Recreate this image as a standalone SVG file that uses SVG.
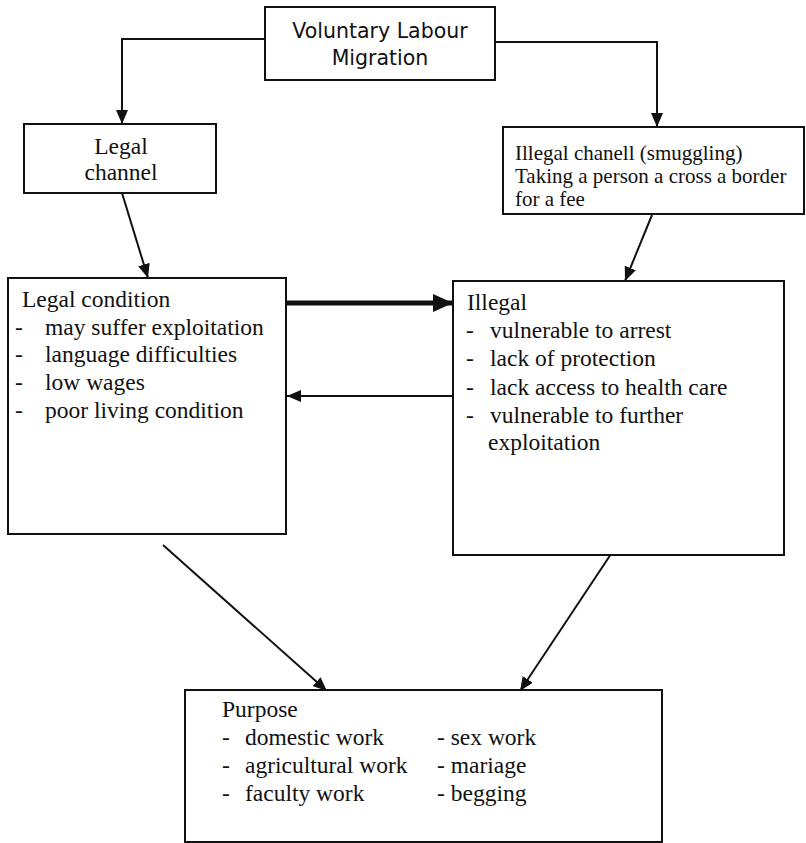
<svg xmlns="http://www.w3.org/2000/svg" width="806" height="843" viewBox="0 0 806 843">
<style>
  .box { fill: #fff; stroke: #111; stroke-width: 2; }
  .sans { font-family: "DejaVu Sans", "Liberation Sans", sans-serif; font-size: 20.5px; fill: #111; }
  .serif { font-family: "Liberation Serif", "Times New Roman", serif; font-size: 23.5px; fill: #111; }
  .small { font-size: 21px; }
  .conn { fill: none; stroke: #111; stroke-width: 2; }
  .thick { fill: none; stroke: #111; stroke-width: 5; }
</style>
<defs>
  <marker id="arr" markerUnits="userSpaceOnUse" markerWidth="14" markerHeight="12" refX="14" refY="6" orient="auto">
    <path d="M0,0 L14,6 L0,12 z" fill="#111"/>
  </marker>
  <marker id="arrBig" markerUnits="userSpaceOnUse" markerWidth="20" markerHeight="18" refX="20" refY="9" orient="auto">
    <path d="M0,0 L20,9 L0,18 z" fill="#111"/>
  </marker>
</defs>
<rect width="806" height="843" fill="#fff"/>

<g id="connectors">
  <polyline class="conn" points="265,39 122,39 122,124" marker-end="url(#arr)"/>
  <polyline class="conn" points="495,42 657,42 657,127" marker-end="url(#arr)"/>
  <line class="conn" x1="122" y1="193" x2="148" y2="278" marker-end="url(#arr)"/>
  <line class="conn" x1="652" y1="215" x2="625" y2="281" marker-end="url(#arr)"/>
  <line class="thick" x1="287" y1="303" x2="453" y2="303" marker-end="url(#arrBig)"/>
  <line class="conn" x1="453" y1="396" x2="287" y2="396" marker-end="url(#arr)"/>
  <line class="conn" x1="163" y1="545" x2="327" y2="691" marker-end="url(#arr)"/>
  <line class="conn" x1="615" y1="548" x2="520" y2="691" marker-end="url(#arr)"/>
</g>

<g id="voluntary">
  <rect class="box" x="265" y="7" width="230" height="73"/>
  <text class="sans" x="380" y="38" text-anchor="middle">Voluntary Labour</text>
  <text class="sans" x="380" y="65" text-anchor="middle">Migration</text>
</g>

<g id="legal-channel">
  <rect class="box" x="24" y="124" width="192" height="69"/>
  <text class="serif" x="121" y="154" text-anchor="middle">Legal</text>
  <text class="serif" x="121" y="180" text-anchor="middle">channel</text>
</g>

<g id="illegal-channel">
  <rect class="box" x="503" y="127" width="301" height="87"/>
  <text class="serif small" x="515" y="160">Illegal chanell (smuggling)</text>
  <text class="serif small" x="515" y="183">Taking a person a cross a border</text>
  <text class="serif small" x="515" y="206">for a fee</text>
</g>

<g id="legal-condition">
  <rect class="box" x="8" y="278" width="278" height="256"/>
  <text class="serif" x="22" y="307">Legal condition</text>
  <text class="serif" x="15" y="335">-</text><text class="serif" x="45" y="335">may suffer exploitation</text>
  <text class="serif" x="15" y="362">-</text><text class="serif" x="45" y="362">language difficulties</text>
  <text class="serif" x="15" y="390">-</text><text class="serif" x="45" y="390">low wages</text>
  <text class="serif" x="15" y="418">-</text><text class="serif" x="45" y="418">poor living condition</text>
</g>

<g id="illegal">
  <rect class="box" x="453" y="281" width="331" height="274"/>
  <text class="serif" x="467" y="310">Illegal</text>
  <text class="serif" x="466" y="338">-</text><text class="serif" x="490" y="338">vulnerable to arrest</text>
  <text class="serif" x="466" y="366">-</text><text class="serif" x="490" y="366">lack of protection</text>
  <text class="serif" x="466" y="395">-</text><text class="serif" x="490" y="395">lack access to health care</text>
  <text class="serif" x="466" y="423">-</text><text class="serif" x="490" y="423">vulnerable to further</text>
  <text class="serif" x="488" y="450">exploitation</text>
</g>

<g id="purpose">
  <rect class="box" x="185" y="690" width="477" height="152"/>
  <text class="serif" x="222" y="717">Purpose</text>
  <text class="serif" x="222" y="745">-</text><text class="serif" x="245" y="745">domestic work</text>
  <text class="serif" x="222" y="773">-</text><text class="serif" x="245" y="773">agricultural work</text>
  <text class="serif" x="222" y="801">-</text><text class="serif" x="245" y="801">faculty work</text>
  <text class="serif" x="437" y="745">- sex work</text>
  <text class="serif" x="437" y="773">- mariage</text>
  <text class="serif" x="437" y="801">- begging</text>
</g>
</svg>
